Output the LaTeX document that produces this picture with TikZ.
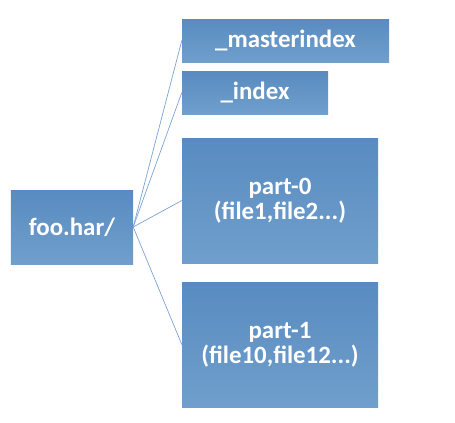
\documentclass[tikz,border=0pt]{standalone}
\usepackage{fontspec}
\setmainfont{Carlito}
\definecolor{boxtop}{RGB}{88,139,192}
\definecolor{boxbot}{RGB}{112,159,204}
\definecolor{linkblue}{RGB}{122,163,210}
\tikzset{
  harbox/.style={rectangle, top color=boxtop, bottom color=boxbot, draw=none,
    text=white, font=\fontsize{25}{25}\selectfont\bfseries, align=center,
    inner sep=0pt},
  harlink/.style={linkblue, line width=0.7pt}
}
\begin{document}
\begin{tikzpicture}[x=1bp, y=-1bp]
    % 1. Vùng hiển thị
    \useasboundingbox (0, 0) rectangle (455, 422);

    % 2. Thư mục gốc
    \node[harbox, minimum width=122bp, minimum height=74bp] (foohar) at (72, 227) {foo.har/};

    % 3. Các tệp bên trong
    \node[harbox, minimum width=207bp, minimum height=43bp] (masteridx) at (285.5, 40.5) {\_masterindex};
    \node[harbox, minimum width=146bp, minimum height=43bp] (idx) at (255, 92.5) {\_index};
    \node[harbox, minimum width=196bp, minimum height=125bp] (part0) at (280, 200.5) {part-0\\(file1,file2...)};
    \node[harbox, minimum width=196bp, minimum height=125bp] (part1) at (280, 344.5) {part-1\\(file10,file12...)};

    % 4. Đường nối
    \foreach \f in {masteridx, idx, part0, part1}
        \draw[harlink] (foohar.east) -- (\f.west);
\end{tikzpicture}
\end{document}
